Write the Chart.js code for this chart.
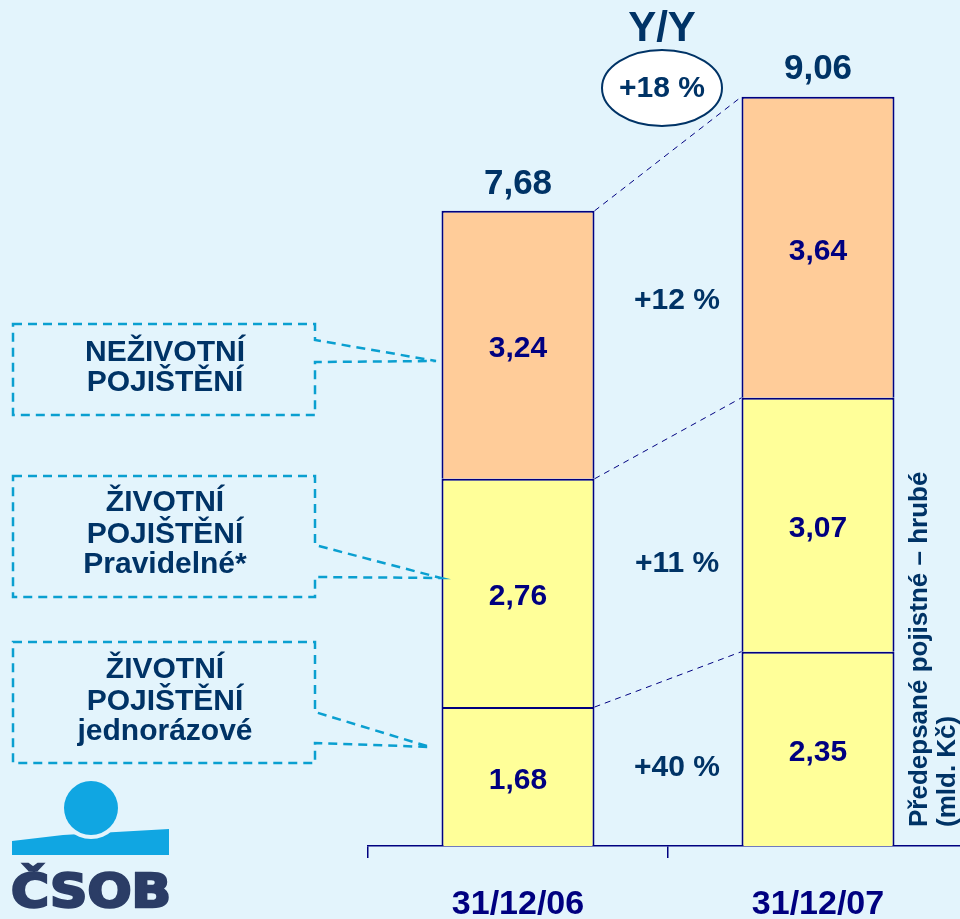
<!DOCTYPE html>
<html>
<head>
<meta charset="utf-8">
<script src="https://cdn.jsdelivr.net/npm/chart.js@4"></script>
<style>
  html, body { margin: 0; padding: 0; background: #e3f4fc; overflow: hidden; }
  #wrap { position: relative; width: 1000px; height: 919px; }
</style>
</head>
<body>
<div id="wrap"><canvas id="premChart"></canvas></div>
<script>
  const categories = ['31/12/06', '31/12/07'];
  const jednorazove = [1.68, 2.35];
  const pravidelne  = [2.76, 3.07];
  const nezivotni   = [3.24, 3.64];
  const growth      = ['+40 %', '+11 %', '+12 %'];
  const totalGrowth = '+18 %';
  const seriesNames = [
    ['ŽIVOTNÍ', 'POJIŠTĚNÍ', 'jednorázové'],
    ['ŽIVOTNÍ', 'POJIŠTĚNÍ', 'Pravidelné*'],
    ['NEŽIVOTNÍ', 'POJIŠTĚNÍ'],
  ];
  const axisTitle = ['Předepsané pojistné – hrubé', '(mld. Kč)'];

  const FONT = "'Liberation Sans', Arial, sans-serif";
  const NAVY = '#000080';
  const DARK = '#003366';
  const fmt = v => v.toFixed(2).replace('.', ',');

  // callout boxes on the left: box rect, wedge start/end on right edge, tip
  const callouts = [
    { x: 13, y: 642, w: 302, h: 121, w1: 712, w2: 743, tip: [430, 747], lines: [670, 702, 732] },
    { x: 13, y: 476, w: 302, h: 121, w1: 545, w2: 577, tip: [441, 578], lines: [503, 535, 565] },
    { x: 13, y: 324, w: 302, h: 91,  w1: 340, w2: 362, tip: [436, 361], lines: [353, 383] },
  ];

  const overlay = {
    id: 'overlay',
    afterDatasetsDraw(chart) {
      const ctx = chart.ctx;
      const metas = [0, 1, 2].map(i => chart.getDatasetMeta(i).data);
      ctx.save();

      // dashed connectors between segment tops
      ctx.strokeStyle = NAVY;
      ctx.lineWidth = 1;
      ctx.setLineDash([6, 5]);
      metas.forEach(els => {
        const a = els[0], b = els[1];
        ctx.beginPath();
        ctx.moveTo(a.x + a.width / 2, a.y);
        ctx.lineTo(b.x - b.width / 2, b.y);
        ctx.stroke();
      });
      ctx.setLineDash([]);

      // segment values
      ctx.textAlign = 'center';
      ctx.textBaseline = 'middle';
      ctx.font = 'bold 30px ' + FONT;
      ctx.fillStyle = NAVY;
      metas.forEach((els, i) => {
        els.forEach((el, j) => {
          const v = chart.data.datasets[i].data[j];
          ctx.fillText(fmt(v), el.x, (el.y + el.base) / 2 + 4);
        });
      });

      // growth labels between bars
      ctx.fillStyle = DARK;
      metas.forEach((els, i) => {
        const a = els[0], b = els[1];
        const mx = (a.x + a.width / 2 + b.x - b.width / 2) / 2 + 9;
        const my = ((a.y + a.base) / 2 + (b.y + b.base) / 2) / 2 + 5;
        ctx.fillText(growth[i], mx, my);
      });

      // totals
      ctx.font = 'bold 35px ' + FONT;
      [0, 1].forEach(j => {
        const top = metas[2][j];
        const tot = jednorazove[j] + pravidelne[j] + nezivotni[j];
        ctx.fillText(fmt(tot), top.x, top.y - 27);
      });

      // Y/Y bubble
      const a = metas[2][0], b = metas[2][1];
      const cx = (a.x + a.width / 2 + b.x - b.width / 2) / 2 - 6;
      ctx.font = 'bold 42px ' + FONT;
      ctx.fillText('Y/Y', cx, 29);
      ctx.beginPath();
      ctx.ellipse(cx, 88, 60, 38, 0, 0, Math.PI * 2);
      ctx.fillStyle = '#ffffff';
      ctx.fill();
      ctx.lineWidth = 2;
      ctx.strokeStyle = DARK;
      ctx.stroke();
      ctx.fillStyle = DARK;
      ctx.font = 'bold 30px ' + FONT;
      ctx.fillText(totalGrowth, cx, 89);

      // rotated axis title on the right
      ctx.save();
      ctx.translate(920, 827);
      ctx.rotate(-Math.PI / 2);
      ctx.textAlign = 'left';
      ctx.font = 'bold 26px ' + FONT;
      ctx.fillText(axisTitle[0], 0, 0);
      ctx.fillText(axisTitle[1], 0, 28);
      ctx.restore();

      // callout boxes
      callouts.forEach((c, i) => {
        ctx.beginPath();
        ctx.moveTo(c.x, c.y);
        ctx.lineTo(c.x + c.w, c.y);
        ctx.lineTo(c.x + c.w, c.w1);
        ctx.lineTo(c.tip[0], c.tip[1]);
        ctx.lineTo(c.x + c.w, c.w2);
        ctx.lineTo(c.x + c.w, c.y + c.h);
        ctx.lineTo(c.x, c.y + c.h);
        ctx.closePath();
        ctx.setLineDash([9, 6]);
        ctx.lineWidth = 2.5;
        ctx.strokeStyle = '#0a9fd0';
        ctx.stroke();
        ctx.setLineDash([]);
        ctx.fillStyle = DARK;
        ctx.font = 'bold 30px ' + FONT;
        ctx.textAlign = 'center';
        seriesNames[i].forEach((t, k) => ctx.fillText(t, c.x + c.w / 2 + 1, c.lines[k]));
      });

      // ČSOB logo
      ctx.fillStyle = '#10a6e2';
      ctx.beginPath();
      ctx.moveTo(12, 841);
      ctx.lineTo(63, 835);
      ctx.lineTo(169, 829);
      ctx.lineTo(169, 855);
      ctx.lineTo(12, 855);
      ctx.closePath();
      ctx.fill();
      ctx.fillStyle = '#e3f4fc';
      ctx.beginPath();
      ctx.arc(91, 808, 31, 0, Math.PI * 2);
      ctx.fill();
      ctx.fillStyle = '#10a6e2';
      ctx.beginPath();
      ctx.arc(91, 808, 27, 0, Math.PI * 2);
      ctx.fill();
      ctx.font = 'bold 47px "DejaVu Sans", sans-serif';
      ctx.textAlign = 'left';
      ctx.textBaseline = 'alphabetic';
      const w = ctx.measureText('ČSOB').width;
      ctx.save();
      ctx.translate(11, 907);
      ctx.scale(160 / w, 1);
      ctx.fillStyle = '#2b3d66';
      ctx.strokeStyle = '#2b3d66';
      ctx.lineWidth = 2.5;
      ctx.fillText('ČSOB', 0, 0);
      ctx.strokeText('ČSOB', 0, 0);
      ctx.restore();

      ctx.restore();
    }
  };

  const border = { top: 2, right: 2, bottom: 0, left: 2 };

  new Chart(document.getElementById('premChart'), {
    type: 'bar',
    data: {
      labels: categories,
      datasets: [
        { label: seriesNames[0].join(' '), data: jednorazove, backgroundColor: '#ffff99' },
        { label: seriesNames[1].join(' '), data: pravidelne,  backgroundColor: '#ffff99' },
        { label: seriesNames[2].join(' '), data: nezivotni,   backgroundColor: '#ffcc99' },
      ]
    },
    options: {
      responsive: true,
      maintainAspectRatio: false,
      animation: false,
      layout: { padding: { left: 368, right: 32, top: 19, bottom: 0 } },
      datasets: {
        bar: {
          categoryPercentage: 1,
          barPercentage: 0.51,
          borderColor: NAVY,
          borderWidth: border,
          borderSkipped: false,
        }
      },
      plugins: { legend: { display: false }, tooltip: { enabled: false } },
      scales: {
        x: {
          stacked: true,
          offset: true,
          afterFit: s => { s.height = 73; },
          grid: { display: true, drawOnChartArea: false, drawTicks: true, tickLength: 12, color: NAVY, lineWidth: 1.5, offset: true },
          border: { display: true, color: NAVY, width: 1.5 },
          ticks: { color: NAVY, font: { family: FONT, size: 34, weight: 'bold' }, padding: 26, maxRotation: 0 }
        },
        y: { stacked: true, display: false, min: 0, max: 10 }
      }
    },
    plugins: [overlay]
  });
</script>
</body>
</html>
